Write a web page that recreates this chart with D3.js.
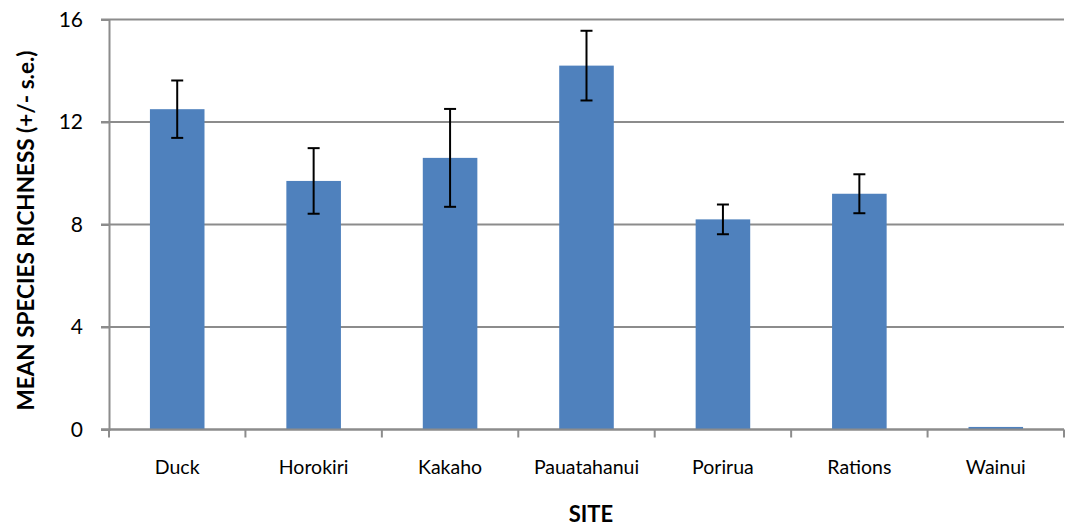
<!DOCTYPE html>
<html>
<head>
<meta charset="utf-8">
<script src="https://cdn.jsdelivr.net/npm/d3@7"></script>
<style>
  html, body { margin: 0; padding: 0; background: #fff; }
  svg { display: block; font-family: Lato, "Open Sans", sans-serif; }
</style>
</head>
<body>
<svg id="chart" width="1065" height="527"></svg>
<script>
// Mean species richness per site with standard errors
const sites = ["Duck", "Horokiri", "Kakaho", "Pauatahanui", "Porirua", "Rations", "Wainui"];
const meanRichness = [12.5, 9.7, 10.6, 14.2, 8.2, 9.2, 0.1];
const stdError = [1.12, 1.28, 1.91, 1.36, 0.58, 0.76, 0];
const yTicks = [0, 4, 8, 12, 16];

const margin = { top: 19.5, right: 1, bottom: 97.5, left: 109 };
const width = 1065 - margin.left - margin.right;
const height = 527 - margin.top - margin.bottom;

const svg = d3.select("#chart");
const g = svg.append("g").attr("transform", `translate(${margin.left},${margin.top})`);

const x = d3.scaleBand().domain(sites).range([0, width]).paddingInner(0.6).paddingOuter(0.3);
const xOuter = d3.scaleBand().domain(sites).range([0, width]);
const y = d3.scaleLinear().domain([0, 16]).range([height, 0]);

const gridColor = "#8c8c8c";

// horizontal gridlines
g.append("g")
  .selectAll("line")
  .data(yTicks)
  .join("line")
  .attr("x1", -8).attr("x2", width)
  .attr("y1", d => y(d)).attr("y2", d => y(d))
  .attr("stroke", gridColor).attr("stroke-width", 2);

// y axis
const yAxis = g.append("g")
  .call(d3.axisLeft(y).tickValues(yTicks).tickSize(8).tickPadding(18).tickFormat(d3.format("d")));
yAxis.select(".domain").attr("stroke", gridColor).attr("stroke-width", 2);
yAxis.selectAll(".tick line").attr("stroke", gridColor).attr("stroke-width", 2);
yAxis.selectAll("text").attr("font-size", 21).attr("fill", "#000").attr("font-family", "Lato, sans-serif");

// bars
g.append("g")
  .selectAll("rect")
  .data(sites)
  .join("rect")
  .attr("x", d => x(d))
  .attr("width", x.bandwidth())
  .attr("y", (d, i) => y(meanRichness[i]))
  .attr("height", (d, i) => y(0) - y(meanRichness[i]))
  .attr("fill", "#4f81bd");

// x axis with tick marks at category boundaries
const xAxisG = g.append("g").attr("transform", `translate(0,${height})`);
xAxisG.append("line")
  .attr("x1", -8).attr("x2", width)
  .attr("stroke", gridColor).attr("stroke-width", 2);
xAxisG.selectAll(".bound")
  .data(d3.range(sites.length + 1))
  .join("line")
  .attr("class", "bound")
  .attr("x1", i => i < sites.length ? xOuter(sites[i]) : width)
  .attr("x2", i => i < sites.length ? xOuter(sites[i]) : width)
  .attr("y1", 0).attr("y2", 8)
  .attr("stroke", gridColor).attr("stroke-width", 2);
xAxisG.selectAll(".lbl")
  .data(sites)
  .join("text")
  .attr("class", "lbl")
  .attr("x", d => x(d) + x.bandwidth() / 2)
  .attr("y", 44)
  .attr("text-anchor", "middle")
  .attr("font-size", 19.5)
  .attr("fill", "#000")
  .text(d => d);

// error bars
const capHalf = 6;
const eb = g.append("g")
  .selectAll("g")
  .data(sites.map((s, i) => ({ s, m: meanRichness[i], e: stdError[i] })).filter(d => d.e > 0))
  .join("g")
  .attr("stroke", "#000").attr("stroke-width", 2);
eb.append("line")
  .attr("x1", d => x(d.s) + x.bandwidth() / 2).attr("x2", d => x(d.s) + x.bandwidth() / 2)
  .attr("y1", d => y(d.m + d.e)).attr("y2", d => y(d.m - d.e));
eb.append("line")
  .attr("x1", d => x(d.s) + x.bandwidth() / 2 - capHalf).attr("x2", d => x(d.s) + x.bandwidth() / 2 + capHalf)
  .attr("y1", d => y(d.m + d.e)).attr("y2", d => y(d.m + d.e));
eb.append("line")
  .attr("x1", d => x(d.s) + x.bandwidth() / 2 - capHalf).attr("x2", d => x(d.s) + x.bandwidth() / 2 + capHalf)
  .attr("y1", d => y(d.m - d.e)).attr("y2", d => y(d.m - d.e));

// axis titles
svg.append("text")
  .attr("transform", `translate(34,${margin.top + height / 2 + 6}) rotate(-90)`)
  .attr("text-anchor", "middle")
  .attr("font-size", 22.5).attr("font-weight", "bold")
  .text("MEAN SPECIES RICHNESS (+/- s.e.)");

svg.append("text")
  .attr("x", 591)
  .attr("y", 522)
  .attr("text-anchor", "middle")
  .attr("font-size", 22).attr("font-weight", "bold")
  .text("SITE");
</script>
</body>
</html>
